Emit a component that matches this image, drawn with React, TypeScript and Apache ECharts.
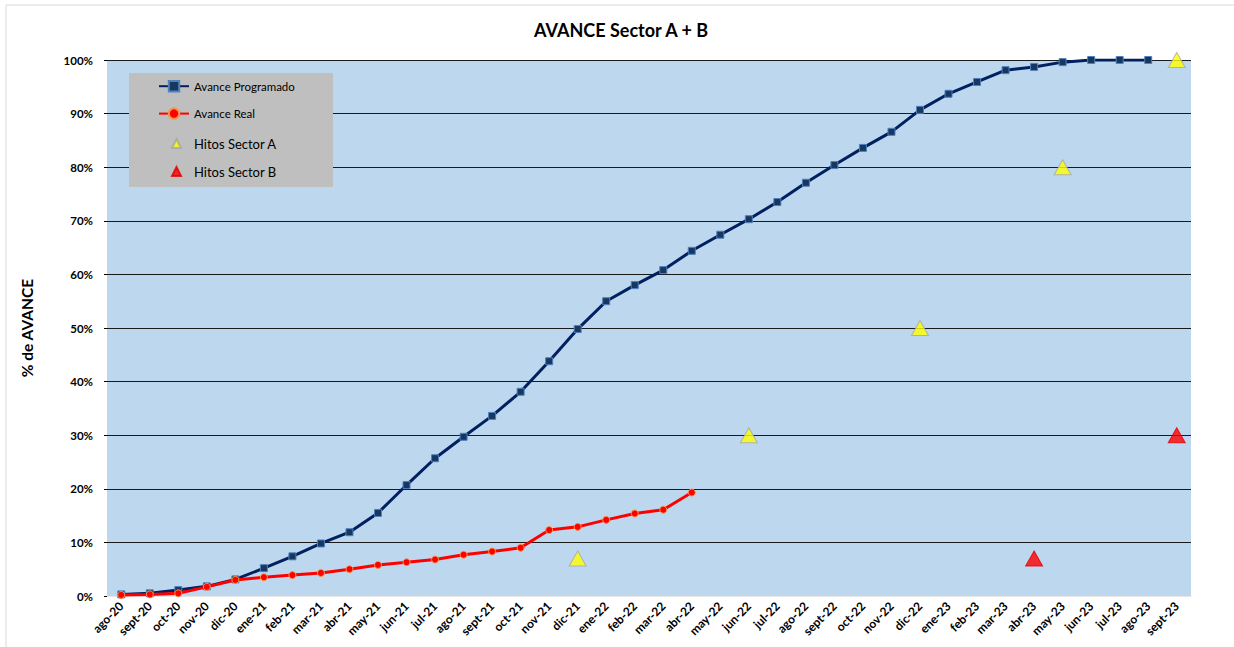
import React, { useEffect, useRef } from "react";
import * as echarts from "echarts";

const months = [
  "ago-20", "sept-20", "oct-20", "nov-20", "dic-20", "ene-21", "feb-21", "mar-21", "abr-21", "may-21",
  "jun-21", "jul-21", "ago-21", "sept-21", "oct-21", "nov-21", "dic-21", "ene-22", "feb-22", "mar-22",
  "abr-22", "may-22", "jun-22", "jul-22", "ago-22", "sept-22", "oct-22", "nov-22", "dic-22", "ene-23",
  "feb-23", "mar-23", "abr-23", "may-23", "jun-23", "jul-23", "ago-23", "sept-23",
];

const avanceProgramado = [
  0.3, 0.5, 1.1, 1.8, 3.1, 5.2, 7.4, 9.8, 11.9, 15.5,
  20.7, 25.7, 29.7, 33.6, 38.1, 43.8, 49.8, 55.0, 58.0, 60.8,
  64.4, 67.4, 70.3, 73.5, 77.1, 80.4, 83.6, 86.6, 90.7, 93.7,
  95.9, 98.1, 98.7, 99.6, 100, 100, 100, null,
];

const avanceReal = [
  0.2, 0.3, 0.5, 1.7, 3.0, 3.5, 3.9, 4.3, 5.0, 5.8,
  6.3, 6.8, 7.7, 8.3, 9.0, 12.3, 12.9, 14.2, 15.4, 16.1,
  19.3,
];

const hitosAMonths = ["dic-21", "jun-22", "dic-22", "may-23", "sept-23"];
const hitosAValues = [7, 30, 50, 80, 100];
const hitosBMonths = ["abr-23", "sept-23"];
const hitosBValues = [7, 30];

const yTicks = [0, 10, 20, 30, 40, 50, 60, 70, 80, 90, 100];

const FONT = "Lato, 'Open Sans', sans-serif";

export default function App() {
  const ref = useRef<HTMLDivElement>(null);

  useEffect(() => {
    if (!ref.current) return;
    const chart = echarts.init(ref.current, undefined, { renderer: "svg" });
    chart.setOption({
      animation: false,
      backgroundColor: "#FFFFFF",
      textStyle: { fontFamily: FONT },
      title: {
        text: "AVANCE Sector A + B",
        left: 534,
        top: 21,
        padding: 0,
        textStyle: { fontFamily: FONT, fontSize: 18, fontWeight: "bold", color: "#000" },
      },
      graphic: [
        {
          type: "rect",
          shape: { x: 6, y: 5, width: 1260, height: 660 },
          style: { fill: "none", stroke: "#D9D9D9", lineWidth: 1 },
          z: 0,
        },
        {
          type: "rect",
          shape: { x: 129, y: 73, width: 204, height: 114 },
          style: { fill: "#BFBFBF" },
          z: 5,
        },
      ],
      legend: [
        {
          orient: "vertical",
          left: 158,
          top: 80,
          padding: 0,
          itemWidth: 30,
          itemHeight: 13,
          itemGap: 15,
          z: 10,
          data: ["Avance Programado", "Avance Real"],
          textStyle: { fontFamily: FONT, fontSize: 11.5, color: "#000" },
        },
        {
          orient: "vertical",
          left: 171,
          top: 137,
          padding: 0,
          itemWidth: 9,
          itemHeight: 9,
          itemGap: 15,
          z: 10,
          data: ["Hitos Sector A", "Hitos Sector B"],
          formatter: (name: string) => `{t|${name}}`,
          textStyle: {
            fontFamily: FONT,
            fontSize: 13,
            color: "#000",
            rich: { t: { fontFamily: FONT, fontSize: 13, color: "#000", padding: [0, 0, 0, 8] } },
          },
        },
      ],
      grid: {
        left: 107,
        right: 43,
        top: 60,
        bottom: 51,
        show: true,
        backgroundColor: "#BDD7EE",
        borderWidth: 0,
      },
      xAxis: {
        type: "category",
        data: months,
        boundaryGap: true,
        axisLine: { show: true, lineStyle: { color: "#E6E6E6", width: 1 } },
        axisTick: { show: false },
        axisLabel: {
          interval: 0,
          rotate: 45,
          margin: 8,
          fontFamily: FONT,
          fontSize: 12,
          fontWeight: "bold",
          color: "#000",
        },
      },
      yAxis: {
        type: "value",
        min: 0,
        max: 100,
        interval: 10,
        name: "% de AVANCE",
        nameLocation: "middle",
        nameGap: 72,
        nameTextStyle: { fontFamily: FONT, fontSize: 15.5, fontWeight: "bold", color: "#000" },
        axisLine: { show: false },
        axisTick: { show: true, length: 3, lineStyle: { color: "#000" } },
        axisLabel: {
          formatter: (v: number) => `${v}%`,
          margin: 14,
          fontFamily: FONT,
          fontSize: 11.5,
          fontWeight: "bold",
          color: "#000",
        },
        splitLine: {
          show: true,
          lineStyle: {
            color: yTicks.map((t) => (t === 0 ? "#E6E6E6" : "#1A1A1A")),
            width: 1,
          },
        },
      },
      series: [
        {
          name: "Avance Programado",
          type: "line",
          data: avanceProgramado,
          symbol: "rect",
          symbolSize: 7,
          showAllSymbol: true,
          lineStyle: { color: "#002060", width: 3 },
          itemStyle: { color: "#17375E", borderColor: "#4F81BD", borderWidth: 1 },
          z: 3,
        },
        {
          name: "Avance Real",
          type: "line",
          data: avanceReal,
          symbol: "circle",
          symbolSize: 7,
          showAllSymbol: true,
          lineStyle: { color: "#FF0000", width: 3 },
          itemStyle: { color: "#FF0000", borderColor: "#F79646", borderWidth: 1 },
          z: 4,
        },
        {
          name: "Hitos Sector A",
          type: "scatter",
          data: hitosAMonths.map((m, i) => [m, hitosAValues[i]]),
          symbol: "triangle",
          symbolSize: [17, 15],
          itemStyle: { color: "#FFFF00", borderColor: "#A6A6A6", borderWidth: 1 },
          z: 5,
        },
        {
          name: "Hitos Sector B",
          type: "scatter",
          data: hitosBMonths.map((m, i) => [m, hitosBValues[i]]),
          symbol: "triangle",
          symbolSize: [17, 15],
          itemStyle: { color: "#FF0000", borderColor: "#E00000", borderWidth: 1 },
          z: 5,
        },
      ],
    });
    return () => chart.dispose();
  }, []);

  return (
    <div
      ref={ref}
      style={{ position: "fixed", left: 0, top: 0, width: 1234, height: 647 }}
    />
  );
}
